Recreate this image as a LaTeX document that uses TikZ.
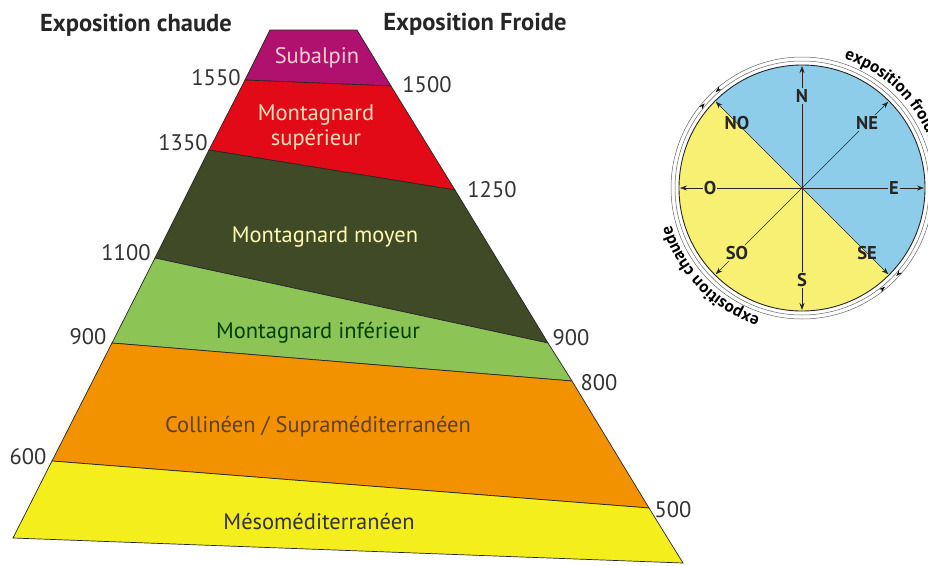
\documentclass[tikz,border=0pt]{standalone}
\usepackage{fontspec}
\setmainfont{PT Sans}
\usetikzlibrary{arrows.meta,decorations.text,calc}

\definecolor{subalpin}{HTML}{B0116E}
\definecolor{montsup}{HTML}{E30A17}
\definecolor{montmoy}{HTML}{414A27}
\definecolor{montinf}{HTML}{8DC456}
\definecolor{collineen}{HTML}{F39200}
\definecolor{mesomed}{HTML}{F4EE1C}
\definecolor{froid}{HTML}{8DCDEA}
\definecolor{chaud}{HTML}{F8F072}
\definecolor{numgray}{HTML}{333333}

\tikzset{
  band/.style={draw=black!85, line width=0.7pt},
  zonelabel/.style={font=\fontsize{22.5}{25}\selectfont, align=center},
  alt/.style={font=\fontsize{22.5}{22}\selectfont, text=numgray, inner sep=1pt},
  heading/.style={font=\fontsize{24.5}{24}\selectfont\bfseries, text=black!85, anchor=base},
  dirlabel/.style={font=\fontsize{18.5}{18}\selectfont\bfseries, inner sep=1pt, text=black!85},
  dirarrow/.style={-{Stealth[length=7pt,width=5pt]}, line width=0.6pt, draw=black!85},
  ringtip/.style={white, -{Stealth[black,length=6pt,width=4pt]}},
}

\begin{document}
\begin{tikzpicture}[x=1pt,y=-1pt]
        \useasboundingbox (0,0) rectangle (928,565);

        % etages de vegetation
        \draw[band, fill=subalpin] (270,30) -- (357,30) -- (391,86) -- (245,80) -- cycle;
        \draw[band, fill=montsup] (245,80) -- (391,86) -- (455,190) -- (209,150) -- cycle;
        \draw[band, fill=montmoy] (209,150) -- (455,190) -- (548,343) -- (155,258) -- cycle;
        \draw[band, fill=montinf] (155,258) -- (548,343) -- (572,381) -- (112,343) -- cycle;
        \draw[band, fill=collineen] (112,343) -- (572,381) -- (649,508) -- (52,461) -- cycle;
        \draw[band, fill=mesomed] (52,461) -- (649,508) -- (683,563) -- (13,538) -- cycle;

        \node[zonelabel, text=pink!70!white] (subalpinlbl) at (317,58) {Subalpin};
        \node[zonelabel, text=orange!25!white] (montsuplbl) at (316,127) {Montagnard\\supérieur};
        \node[zonelabel, text=yellow!30!white] (montmoylbl) at (325,237) {Montagnard moyen};
        \node[zonelabel, text=green!25!black] (montinflbl) at (318,333) {Montagnard inférieur};
        \node[zonelabel, text=brown!50!black] (collineenlbl) at (318,427) {Collinéen / Supraméditerranéen};
        \node[zonelabel, text=black!80] (mesomedlbl) at (319,522) {Mésoméditerranéen};

        \node[heading] (chaude) at (136,31) {Exposition chaude};
        \node[heading] (froide) at (475,30) {Exposition Froide};

        % altitudes
        \node[alt] (a1550) at (216,78) {1550};
        \node[alt] (a1350) at (183,143) {1350};
        \node[alt] (a1100) at (126,253) {1100};
        \node[alt] (a900l) at (88,337) {900};
        \node[alt] (a600) at (28,457) {600};
        \node[alt] (a1500) at (427,85) {1500};
        \node[alt] (a1250) at (492,190) {1250};
        \node[alt] (a900r) at (571,338) {900};
        \node[alt] (a800) at (599,383) {800};
        \node[alt] (a500) at (673,510) {500};

        % rose des vents
        \coordinate (c) at (802,188);
        \begin{scope}[y=1pt]
          \fill[froid] (c) -- ++(135:123) arc (135:-45:123) -- cycle;
          \fill[chaud] (c) -- ++(135:123) arc (135:315:123) -- cycle;
          \draw[line width=0.5pt, black!60] (c) circle (127);
          \draw[line width=0.5pt, black!60] (c) circle (131);

          \foreach \a in {0,45,...,315} {
            \draw[dirarrow] (c) -- ++(\a:122);
          }
          \foreach \a/\d/\f in {90/N/froid,45/NE/froid,0/E/froid,-45/SE/none,
                                -90/S/chaud,-135/SO/chaud,180/O/chaud,135/NO/none} {
            \node[dirlabel, fill=\f] (dir\d) at ($(c)+(\a:92)$) {\d};
          }
          \draw[line width=0.9pt, black!85] (c) circle (123);

          \draw[ringtip] ([shift=(150:129)]c) arc (150:139:129);
          \draw[ringtip] ([shift=(120:129)]c) arc (120:132:129);
          \draw[ringtip] ([shift=(-30:129)]c) arc (-30:-43:129);
          \draw[ringtip] ([shift=(-63:129)]c) arc (-63:-50:129);

          \path[decorate, decoration={text along path, text align=left,
                text={|\fontsize{17}{17}\selectfont\bfseries|exposition froide}}]
                ([shift=(72:136)]c) arc (72:-30:136);
          \path[decorate, decoration={text along path, text align=left,
                text={|\fontsize{17}{17}\selectfont\bfseries|exposition chaude}}]
                ([shift=(252:136)]c) arc (252:160:136);
        \end{scope}
      \end{tikzpicture}
\end{document}
